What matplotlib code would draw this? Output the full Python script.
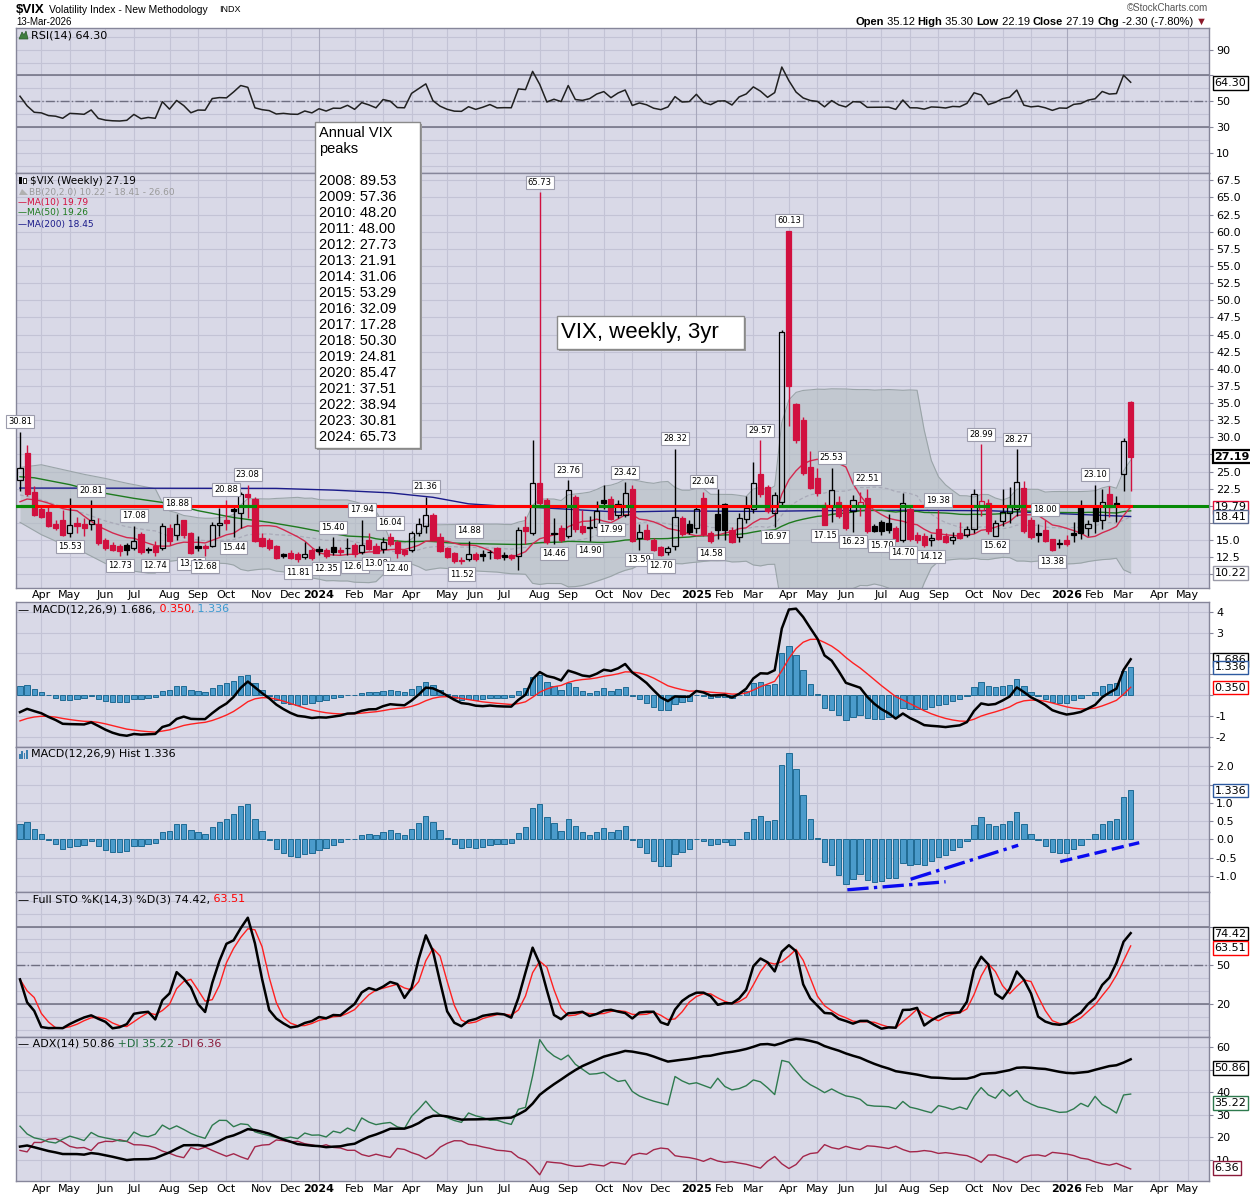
import numpy as np
import pandas as pd
import matplotlib
matplotlib.use('Agg')
import matplotlib.pyplot as plt
from matplotlib.patches import Rectangle, Polygon

plt.rcParams['font.family'] = ['DejaVu Sans']

W, H = 1250, 1200
L, R = 16, 1209

# weekly bars, first bar = week of 2023-03-13
first_week = '2023-03-13'
prev_close = 24.80

opens = [23.8, 27.7, 22.0, 19.6, 19.1, 17.4, 18.0, 16.1, 17.5, 17.3,
         17.3, 17.4, 15.0, 14.3, 14.2, 14.3, 13.9, 15.9, 13.65, 14.2,
         13.9, 16.8, 15.7, 17.9, 16.1, 14.1, 14.2, 14.2, 17.2, 17.9,
         19.6, 19.0, 21.7, 21.0, 15.3, 15.0, 14.2, 13.0, 13.1, 13.0,
         12.5, 13.6, 13.7, 13.6, 14.0, 13.6, 13.9, 14.3, 13.3, 15.0,
         14.2, 13.7, 15.5, 14.7, 13.5, 13.6, 16.0, 17.0, 18.6, 15.4,
         13.9, 13.1, 12.1, 12.3, 13.0, 13.0, 13.3, 13.8, 12.9, 12.9,
         12.7, 16.9, 16.1, 23.4, 20.8, 16.0, 16.8, 15.6, 21.3, 17.1,
         16.7, 16.9, 20.8, 21.0, 18.7, 18.6, 22.4, 15.3, 16.5, 15.0,
         14.0, 13.3, 14.2, 18.2, 17.3, 16.8, 21.2, 16.1, 18.8, 20.3,
         16.5, 15.4, 18.1, 19.5, 24.6, 22.7, 19.0, 20.6, 60.13, 34.8,
         32.6, 25.6, 24.1, 20.2, 19.8, 20.6, 19.8, 19.2, 19.9, 21.1,
         17.0, 17.7, 17.5, 16.8, 15.0, 19.6, 15.8, 15.6, 15.0, 16.6,
         15.6, 15.0, 16.1, 15.8, 16.6, 19.4, 20.4, 15.65, 17.8, 19.0,
         19.5, 22.6, 17.9, 16.0, 16.5, 15.1, 14.6, 15.0, 16.1, 20.0,
         16.8, 20.0, 17.9, 21.7, 20.4, 24.6, 35.12]
highs = [30.81, 28.9, 22.9, 20.0, 19.9, 17.9, 19.4, 21.2, 18.4, 18.2,
         20.81, 18.2, 15.3, 14.8, 14.4, 14.6, 17.08, 16.2, 14.0, 14.9,
         17.5, 17.3, 18.88, 18.0, 16.2, 15.6, 14.5, 17.7, 19.7, 20.88,
         20.1, 22.0, 23.08, 21.3, 16.1, 15.3, 14.3, 13.1, 13.6, 13.2,
         14.7, 13.8, 14.2, 13.9, 15.40, 14.0, 15.3, 14.6, 17.94, 16.0,
         14.6, 15.4, 16.04, 15.0, 13.7, 16.4, 18.3, 21.36, 19.0, 16.1,
         14.0, 13.3, 12.6, 14.88, 13.3, 13.5, 13.5, 14.0, 13.3, 13.0,
         16.9, 18.5, 29.66, 65.73, 21.1, 18.3, 17.2, 23.76, 21.6, 19.4,
         18.5, 20.7, 23.0, 21.5, 20.8, 23.42, 23.0, 17.3, 17.3, 15.3,
         14.2, 14.2, 28.32, 18.5, 17.9, 20.0, 22.04, 16.3, 22.4, 20.4,
         16.9, 19.0, 21.5, 26.4, 29.57, 23.0, 22.0, 45.6, 60.13, 35.0,
         33.0, 28.0, 25.5, 20.5, 25.53, 21.5, 20.0, 21.6, 22.0, 22.51,
         17.3, 18.0, 18.8, 17.0, 21.9, 20.1, 16.2, 16.0, 15.9, 19.38,
         16.0, 16.2, 17.7, 17.0, 22.4, 28.99, 21.0, 18.0, 22.5, 22.8,
         28.27, 23.7, 18.4, 17.3, 18.00, 15.2, 15.2, 15.8, 17.6, 20.9,
         18.0, 23.10, 22.4, 22.9, 21.5, 29.9, 35.30]
lows = [22.1, 21.4, 18.5, 18.2, 16.9, 16.5, 15.6, 15.53, 16.1, 15.6,
        16.5, 14.3, 13.6, 13.4, 12.73, 12.9, 13.5, 13.0, 13.1, 12.74,
        13.6, 14.3, 15.0, 15.3, 13.02, 13.4, 12.68, 14.0, 15.6, 16.5,
        15.44, 16.8, 18.3, 14.7, 14.0, 13.6, 12.3, 12.4, 12.2, 11.81,
        12.2, 12.1, 12.9, 12.35, 12.9, 12.8, 12.9, 12.61, 13.0, 13.6,
        13.08, 13.1, 14.1, 12.40, 12.7, 13.2, 15.6, 16.1, 14.9, 13.3,
        12.4, 11.7, 11.52, 12.0, 11.9, 11.9, 12.2, 12.2, 12.1, 12.1,
        10.6, 14.5, 15.8, 19.9, 14.5, 14.46, 14.7, 15.3, 16.2, 15.9,
        14.90, 16.5, 19.5, 17.99, 18.2, 18.4, 14.7, 13.59, 15.0, 13.4,
        12.70, 12.9, 13.6, 15.6, 15.9, 16.0, 15.6, 14.58, 15.1, 15.0,
        14.6, 14.8, 17.5, 19.0, 21.3, 18.9, 16.97, 20.2, 31.7, 29.2,
        24.5, 22.4, 21.5, 17.15, 17.7, 18.2, 16.5, 16.23, 18.5, 16.0,
        16.2, 15.70, 16.0, 14.9, 14.70, 14.9, 14.6, 14.0, 14.12, 15.0,
        14.6, 14.4, 15.1, 15.5, 16.1, 18.5, 15.9, 15.62, 17.0, 17.5,
        18.5, 16.1, 15.1, 14.7, 14.7, 13.38, 13.9, 14.2, 14.8, 15.2,
        15.6, 16.1, 16.6, 18.4, 17.6, 22.2, 22.19]
closes = [25.51, 21.74, 18.70, 18.40, 17.07, 16.77, 15.78, 17.19, 17.03, 16.81,
          17.95, 14.60, 13.83, 13.54, 13.44, 13.59, 14.83, 13.34, 13.60, 13.33,
          17.10, 14.84, 17.30, 15.68, 13.09, 13.84, 13.79, 17.20, 17.52, 17.45,
          19.32, 21.71, 21.27, 14.91, 14.17, 13.80, 12.46, 12.63, 12.35, 12.28,
          13.03, 12.45, 13.35, 12.70, 13.30, 13.26, 13.85, 12.93, 14.24, 13.75,
          13.11, 14.74, 14.41, 13.06, 13.01, 16.03, 17.31, 18.71, 15.03, 13.49,
          12.55, 11.99, 11.93, 12.92, 12.22, 12.66, 13.20, 12.44, 12.48, 12.46,
          16.52, 16.39, 23.39, 20.37, 14.80, 15.86, 15.00, 22.38, 16.56, 16.15,
          16.96, 19.21, 20.46, 18.03, 20.33, 21.88, 14.94, 16.14, 15.24, 13.51,
          12.77, 13.81, 18.36, 15.95, 16.13, 19.54, 15.97, 14.85, 16.43, 16.54,
          14.77, 18.21, 19.63, 23.37, 21.77, 19.28, 21.65, 45.31, 37.56, 29.65,
          24.84, 22.68, 21.90, 17.24, 22.29, 18.57, 16.77, 20.82, 20.62, 16.32,
          16.38, 16.40, 16.41, 14.93, 20.38, 15.15, 15.09, 14.22, 15.36, 15.18,
          14.76, 15.45, 15.29, 16.65, 21.66, 20.78, 16.37, 17.44, 19.08, 19.83,
          23.43, 16.35, 15.41, 15.74, 14.91, 13.60, 14.51, 14.40, 15.80, 16.10,
          17.30, 17.80, 20.60, 19.80, 20.00, 29.49, 27.19]

# overlays that need history from before the first bar
ma10_early = [20.6, 21.0, 20.9, 20.7, 20.4, 20.0, 19.6, 19.4, 19.3]
bb_early_idx = [0, 3, 6, 9, 12, 15, 18]
bb_early_upper = [25.6, 26.0, 25.3, 24.6, 24.0, 23.3, 22.7]
bb_early_lower = [17.6, 15.8, 14.4, 13.2, 11.6, 10.6, 10.2]
ma50_early_idx = [0, 2, 7, 11, 16, 21, 25, 30, 35, 39, 42, 46]
ma50_early = [24.25, 24.1, 23.1, 22.0, 21.1, 20.35, 19.3, 18.3, 17.6, 16.9, 16.3, 15.6]
ma200_idx = [0, 36, 44, 52, 58, 63, 68, 72, 84, 92, 104, 112, 124, 136, 142, 150, 156]
ma200_vals = [22.6, 22.55, 22.3, 21.9, 21.25, 20.3, 19.95, 19.8, 19.1, 19.25,
              19.2, 19.3, 19.35, 19.3, 19.05, 18.7, 18.45]

# indicator state just before the first bar
rsi_seed = (1.0, 0.9)
macd_seed = (19.6, 21.0, -1.35)
adx_prev_hl = (28.0, 18.2)
adx_seed = (3.2, 0.75, 0.55, 15.0)

high_label_idx = [0, 10, 16, 22, 29, 32, 44, 48, 52, 57, 63, 73, 77, 85, 92, 96,
                  104, 108, 114, 119, 129, 135, 140, 144, 151]
low_label_idx = [7, 14, 19, 24, 26, 30, 39, 43, 47, 50, 53, 62, 75, 80, 83, 87, 90,
                 97, 106, 113, 117, 121, 124, 128, 137, 145]

level = 19.95
green_spans = [(-0.6, 1.8), (30.9, 33.0), (72, 74.1), (77, 78), (81.5, 83.2), (85.3, 86),
               (103, 105), (106.8, 112.9), (114.3, 115.2), (117, 118.5), (123.7, 125.1),
               (134.2, 135.9), (138.7, 141), (152.2, 153.6)]
hist_trend = [((116.2, -1.38), (130.0, -1.16), '-.'),
              ((125.1, -1.09), (140.2, -0.16), '-.'),
              ((146.1, -0.61), (157.2, -0.09), '--')]

peak_years = list(range(2008, 2025))
peak_values = [89.53, 57.36, 48.20, 48.00, 27.73, 21.91, 31.06, 53.29, 32.09,
               17.28, 50.30, 24.81, 85.47, 37.51, 38.94, 30.81, 65.73]

# ---------------------------------------------------------------- indicators
o = np.array(opens); h = np.array(highs); l = np.array(lows); c = np.array(closes)
n = len(c)
x = np.arange(n)
pc = np.r_[prev_close, c[:-1]]


def wilder(vals, seed, span=14):
    out, v = [], seed
    for a in vals:
        v = v + (a - v) / span
        out.append(v)
    return np.array(out)


def ema(vals, span, seed):
    k = 2.0 / (span + 1)
    out, v = [], seed
    for a in vals:
        v = v + k * (a - v)
        out.append(v)
    return np.array(out)


chg = c - pc
g = wilder(np.clip(chg, 0, None), rsi_seed[0])
ls = wilder(np.clip(-chg, 0, None), rsi_seed[1])
rsi = 100 * g / (g + ls)

macd = ema(c, 12, macd_seed[0]) - ema(c, 26, macd_seed[1])
signal = ema(macd, 9, macd_seed[2])
hist = macd - signal

hs, lw_ = pd.Series(h), pd.Series(l)
hh = hs.rolling(14, min_periods=1).max()
ll = lw_.rolling(14, min_periods=1).min()
raw = 100 * (c - ll) / (hh - ll)
sto_k = raw.rolling(3, min_periods=1).mean()
sto_d = sto_k.rolling(3, min_periods=1).mean()

ph = np.r_[adx_prev_hl[0], h[:-1]]
pl = np.r_[adx_prev_hl[1], l[:-1]]
up = h - ph
dn = pl - l
pdm = np.where((up > dn) & (up > 0), up, 0.0)
mdm = np.where((dn > up) & (dn > 0), dn, 0.0)
tr = np.maximum.reduce([h - l, np.abs(h - pc), np.abs(l - pc)])
atr = wilder(tr, adx_seed[0])
pdi = 100 * wilder(pdm, adx_seed[1]) / atr
mdi = 100 * wilder(mdm, adx_seed[2]) / atr
dx = 100 * np.abs(pdi - mdi) / (pdi + mdi)
adx = wilder(dx, adx_seed[3])

cs = pd.Series(c)
ma10 = cs.rolling(10).mean().values
ma10[:9] = ma10_early
ma50 = cs.rolling(50).mean().values
ma50_x = np.r_[ma50_early_idx, np.arange(49, n)]
ma50_y = np.r_[ma50_early, ma50[49:]]
mid = cs.rolling(20).mean().values
sd = cs.rolling(20).std(ddof=0).values
bb_x = np.r_[bb_early_idx, np.arange(19, n)]
bb_up = np.r_[bb_early_upper, (mid + 2 * sd)[19:]]
bb_lo = np.r_[bb_early_lower, (mid - 2 * sd)[19:]]
bb_mid = (bb_up + bb_lo) / 2

# ---------------------------------------------------------------- dates
mondays = pd.date_range(first_week, periods=170, freq='7D')
month_idx, month_lab, year_idx = [], [], []
for i in range(1, 168):
    if mondays[i].month != mondays[i - 1].month:
        month_idx.append(i)
        if mondays[i].month == 1:
            month_lab.append(str(mondays[i].year))
            year_idx.append(i)
        else:
            month_lab.append(mondays[i].strftime('%b'))

x_lo, x_hi = -0.56, 167.0

BG = '#D9D9E7'
GRID = '#C3C3D5'
YGRID = '#A8A8BC'
BORDER = '#86869A'
RED = '#D1103F'
LINE = '#6E6E80'

fig = plt.figure(figsize=(W / 100, H / 100), dpi=100)
fig.patch.set_facecolor('white')


def panel(top, bottom):
    return fig.add_axes([L / W, 1 - bottom / H, (R - L) / W, (bottom - top) / H])


def style(ax, ylim, grid_vals, tick_vals, fmt, hide=()):
    ax.set_facecolor(BG)
    ax.set_xlim(x_lo, x_hi)
    ax.set_ylim(*ylim)
    for v in grid_vals:
        ax.axhline(v, color=GRID, lw=0.8, zorder=0)
    for i in month_idx:
        ax.axvline(i, color=YGRID if i in year_idx else GRID, lw=0.8, zorder=0)
    ax.yaxis.tick_right()
    ax.set_yticks(tick_vals)
    # labels sitting under a value tag are hidden, as on the chart
    ax.set_yticklabels(['' if v in hide else fmt.format(v) for v in tick_vals])
    ax.tick_params(axis='y', length=3, width=0.8, color=BORDER, labelsize=8, pad=2)
    ax.set_xticks([])
    for s in ax.spines.values():
        s.set_color(BORDER)
        s.set_linewidth(1)


def month_axis(ax, pad):
    ax.set_xticks(month_idx)
    ax.set_xticklabels(month_lab)
    ax.tick_params(axis='x', length=0, labelsize=8, pad=pad)
    for t in ax.get_xticklabels():
        if t.get_text().isdigit():
            t.set_fontweight('bold')


def tag(ax, y, text, ec, bold=False, lw=1.0):
    ax.annotate(text, xy=(1, y), xycoords=('axes fraction', 'data'), xytext=(4, 0),
                textcoords='offset points', ha='left', va='center', fontsize=8,
                fontweight='bold' if bold else 'normal', annotation_clip=False, zorder=20,
                bbox=dict(boxstyle='square,pad=0.15', fc='white', ec=ec, lw=lw))


# ---------------------------------------------------------------- RSI
ax_rsi = panel(28, 173)
style(ax_rsi, (-5.4, 106.7), range(0, 101, 10), [10, 30, 50, 70, 90], '{:.0f}', hide=(70,))
ax_rsi.axhline(70, color=LINE, lw=1.1, zorder=1)
ax_rsi.axhline(30, color=LINE, lw=1.1, zorder=1)
ax_rsi.axhline(50, color=LINE, lw=1.0, ls='-.', zorder=1)
ax_rsi.plot(x, rsi, color='#202020', lw=1.1, zorder=3)
tag(ax_rsi, 64.30, '64.30', 'black')

# ---------------------------------------------------------------- price
ax = panel(173, 588)
pticks = list(np.arange(10, 68, 2.5))
style(ax, (8.02, 68.56), pticks, pticks, '{:.1f}', hide=(10.0, 17.5, 20.0, 27.5))
month_axis(ax, 1.5)

ax.fill_between(bb_x, bb_lo, bb_up, color='#B3BDC1', alpha=0.6, lw=0, zorder=1)
ax.plot(bb_x, bb_up, color='#9AA4A8', lw=0.8, zorder=1.5)
ax.plot(bb_x, bb_lo, color='#9AA4A8', lw=0.8, zorder=1.5)
ax.plot(bb_x, bb_mid, color='#A9AAB8', lw=0.9, ls=(0, (3, 2)), zorder=1.5)
ax.plot(ma200_idx, ma200_vals, color='#1B1B8A', lw=1.0, zorder=2)
ax.plot(ma50_x, ma50_y, color='#1E7A1E', lw=1.0, zorder=2)
ax.plot(x, ma10, color='#D3294F', lw=1.0, zorder=2)

col = np.where(c < pc, RED, 'black')
body_lo = np.minimum(o, c)
body_hi = np.maximum(o, c)
for i in range(n):
    ax.vlines(i, body_hi[i], h[i], color=col[i], lw=1.0, zorder=3)
    ax.vlines(i, l[i], body_lo[i], color=col[i], lw=1.0, zorder=3)
    face = col[i] if c[i] < o[i] else (0, 0, 0, 0)
    ax.bar(i, max(body_hi[i] - body_lo[i], 0.05), bottom=body_lo[i], width=0.72,
           color=face, edgecolor=col[i], linewidth=0.9, zorder=4)

ax.plot([x_lo, x_hi], [level, level], color='#078A07', lw=2.2, zorder=5)
ax.plot([x_lo, n - 1], [level, level], color='#FF0000', lw=2.2, zorder=5.1)
for a, b in green_spans:
    ax.plot([a, b], [level, level], color='#078A07', lw=2.2, zorder=5.2)

lab_box = dict(boxstyle='square,pad=0.25', fc='white', ec='#9C9CAC', lw=0.8)
for i in high_label_idx:
    ax.annotate('{:.2f}'.format(h[i]), xy=(i, h[i]), xytext=(0, 4), textcoords='offset points',
                ha='center', va='bottom', fontsize=6, bbox=lab_box, zorder=7)
for i in low_label_idx:
    ax.annotate('{:.2f}'.format(l[i]), xy=(i, l[i]), xytext=(0, -4), textcoords='offset points',
                ha='center', va='top', fontsize=6, bbox=lab_box, zorder=7)

tag(ax, 27.19, '27.19', 'black', bold=True, lw=1.6)
tag(ax, 19.79, '19.79', '#E0103A')
tag(ax, 18.41, '18.41', '#5A6A90')
tag(ax, 10.22, '10.22', '#9A9AA8')

# ---------------------------------------------------------------- MACD
ax_m = panel(602, 747)
style(ax_m, (-2.5, 4.47), range(-2, 5), range(-2, 5), '{:.0f}', hide=(0, 1, 2))
ax_m.bar(x, hist, width=0.75, color='#4B9BCB', edgecolor='#1F6A93', lw=0.7, zorder=2)
ax_m.plot(x, signal, color='#FF2020', lw=1.0, zorder=3)
ax_m.plot(x, macd, color='black', lw=1.8, zorder=4)
tag(ax_m, 1.686, '1.686', 'black')
tag(ax_m, 1.336, '1.336', '#2D5AA0')
tag(ax_m, 0.350, '0.350', '#FF0000')

# ---------------------------------------------------------------- MACD hist
ax_h = panel(747, 892)
hv = [-1.0, -0.5, 0.0, 0.5, 1.0, 1.5, 2.0]
style(ax_h, (-1.44, 2.53), hv, hv, '{:.1f}', hide=(1.5,))
ax_h.bar(x, hist, width=0.75, color='#4B9BCB', edgecolor='#1F6A93', lw=0.7, zorder=2)
for (x0, y0), (x1, y1), ls_ in hist_trend:
    ax_h.plot([x0, x1], [y0, y1], color='#0A0AF0', lw=2.4, ls=ls_, zorder=5)
tag(ax_h, 1.336, '1.336', '#2D5AA0')

# ---------------------------------------------------------------- STO
ax_s = panel(892, 1037)
style(ax_s, (-5.4, 106.7), range(0, 101, 10), [20, 50, 80], '{:.0f}', hide=(80,))
ax_s.axhline(80, color=LINE, lw=1.1, zorder=1)
ax_s.axhline(20, color=LINE, lw=1.1, zorder=1)
ax_s.axhline(50, color=LINE, lw=1.0, ls='-.', zorder=1)
ax_s.plot(x, sto_d, color='#FF2020', lw=1.0, zorder=3)
ax_s.plot(x, sto_k, color='black', lw=1.8, zorder=4)
tag(ax_s, 74.42, '74.42', 'black')
tag(ax_s, 63.51, '63.51', '#FF0000')

# ---------------------------------------------------------------- ADX
ax_a = panel(1037, 1181)
style(ax_a, (0.6, 64.6), range(10, 61, 10), [10, 20, 30, 40, 50, 60], '{:.0f}', hide=(50,))
month_axis(ax_a, 2.5)
ax_a.plot(x, mdi, color='#A3264A', lw=1.0, zorder=3)
ax_a.plot(x, pdi, color='#2E7A4E', lw=1.0, zorder=3)
ax_a.plot(x, adx, color='black', lw=1.8, zorder=4)
tag(ax_a, 50.86, '50.86', 'black')
tag(ax_a, 35.22, '35.22', '#2E7A4E')
tag(ax_a, 6.36, '6.36', '#8B1A3A')

# ---------------------------------------------------------------- overlay text
ov = fig.add_axes([0, 0, 1, 1])
ov.set_xlim(0, W)
ov.set_ylim(H, 0)
ov.axis('off')
ov.set_zorder(30)


def seq(x0, y0, parts, size=8, family=None):
    kw = dict(fontsize=size)
    if family:
        kw['family'] = family
    s, colr, wt = parts[0]
    t = ov.text(x0, y0, s, color=colr, fontweight=wt, va='center', ha='left', **kw)
    for s, colr, wt in parts[1:]:
        t = ov.annotate(s, xy=(1, 0), xycoords=t, xytext=(0, 0), textcoords='offset points',
                        va='bottom', ha='left', color=colr, fontweight=wt, **kw)
    return t


LS = 'Liberation Sans'
ov.text(16, 10, '$VIX', fontsize=9.5, fontweight='bold', family=LS, va='center')
ov.text(49, 10, 'Volatility Index - New Methodology', fontsize=7.5, family=LS, va='center')
ov.text(219, 10, 'INDX', fontsize=6.5, family=LS, va='center')
ov.text(16, 22, '13-Mar-2026', fontsize=7, family=LS, va='center')
ov.text(1208, 8, '\u00a9StockCharts.com', fontsize=7, family=LS, color='#555555',
        va='center', ha='right')
seq(855, 22, [('Open', 'black', 'bold'), (' 35.12 ', 'black', 'normal'),
              ('High', 'black', 'bold'), (' 35.30 ', 'black', 'normal'),
              ('Low', 'black', 'bold'), (' 22.19 ', 'black', 'normal'),
              ('Close', 'black', 'bold'), (' 27.19 ', 'black', 'normal'),
              ('Chg', 'black', 'bold'), (' -2.30 (-7.80%) ', 'black', 'normal'),
              ('\u25bc', '#8B1A2A', 'normal')], size=8, family=LS)

# panel legends
ov.add_patch(Polygon([[19, 39], [22, 32], [24, 35], [26, 31], [28, 39]], closed=True,
                     fc='#3F7F3F', ec='#2A5A2A', lw=0.5))
ov.text(31, 35, 'RSI(14) 64.30', fontsize=8, va='center')

ov.add_patch(Rectangle((19, 177), 2.5, 7, fc='black'))
ov.add_patch(Rectangle((23, 178), 2.5, 5, fc='white', ec='black', lw=0.6))
ov.text(30, 181, '$VIX (Weekly) 27.19', fontsize=7.5, va='center')
ov.add_patch(Polygon([[19, 195], [22, 189], [25, 192], [28, 195]], closed=True, fc='#B0B0B0'))
ov.text(29, 192, 'BB(20,2.0) 10.22 - 18.41 - 26.60', fontsize=6.5, va='center', color='#9A9A9A')
ov.text(18, 202, '\u2014MA(10) 19.79', fontsize=6.5, va='center', color='#D3103F')
ov.text(18, 213, '\u2014MA(50) 19.26', fontsize=6.5, va='center', color='#1E7A1E')
ov.text(18, 224, '\u2014MA(200) 18.45', fontsize=6.5, va='center', color='#1B1B8A')

seq(18, 609, [('\u2014 MACD(12,26,9) 1.686,', 'black', 'normal'), (' 0.350,', '#FF0000', 'normal'),
              (' 1.336', '#3A9AD0', 'normal')], size=8)
for k, hh_ in enumerate([5, 8, 6, 9]):
    ov.add_patch(Rectangle((19 + 2.3 * k, 759 - hh_), 1.8, hh_, fc='#3A7FB0'))
ov.text(31, 754, 'MACD(12,26,9) Hist 1.336', fontsize=8, va='center')
seq(18, 899, [('\u2014 Full STO %K(14,3) %D(3) 74.42,', 'black', 'normal'),
              (' 63.51', '#FF0000', 'normal')], size=8)
seq(18, 1044, [('\u2014 ADX(14) 50.86', 'black', 'normal'), (' +DI 35.22', '#1E6B3A', 'normal'),
               (' -DI 6.36', '#8B1A3A', 'normal')], size=8)

# annual peaks box
ov.add_patch(Rectangle((317, 124), 105, 326, fc='#9A9A9A', ec='none'))
ov.add_patch(Rectangle((315, 122), 105, 326, fc='white', ec='#8A8A8A', lw=1))
ov.text(319, 133, 'Annual VIX', fontsize=10.5, family=LS, va='center')
ov.text(319, 149, 'peaks', fontsize=10.5, family=LS, va='center')
for k, (yr, pv) in enumerate(zip(peak_years, peak_values)):
    ov.text(319, 181 + 16 * k, '{}: {:.2f}'.format(yr, pv), fontsize=10.5,
            family=LS, va='center')

ov.add_patch(Rectangle((559, 318), 187, 33, fc='#9A9A9A', ec='none'))
ov.add_patch(Rectangle((557, 316), 187, 33, fc='white', ec='#8A8A8A', lw=1))
ov.text(561, 332.5, 'VIX, weekly, 3yr', fontsize=16, family=LS, va='center')

fig.savefig('out.png', dpi=100, facecolor='white')
